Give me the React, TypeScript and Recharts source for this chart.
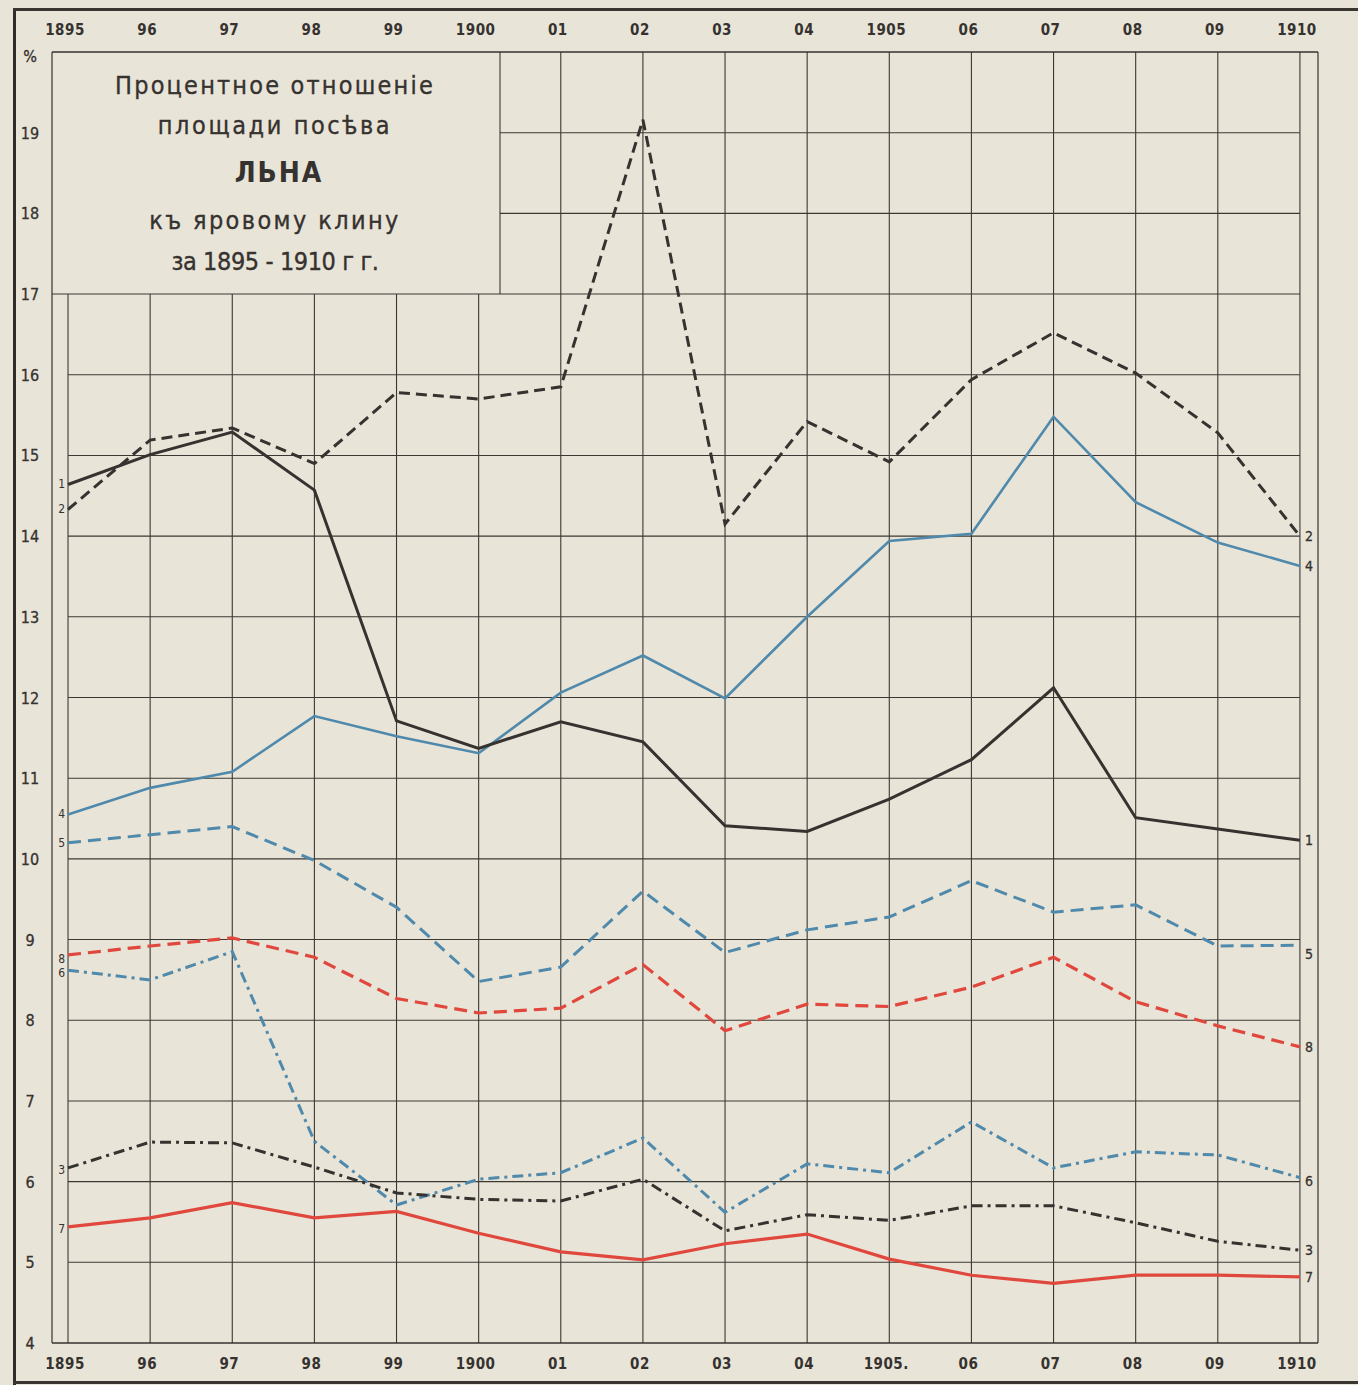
import React from "react";
import { LineChart, Line, XAxis, YAxis, ReferenceLine } from "recharts";

const years = [1895, 1896, 1897, 1898, 1899, 1900, 1901, 1902, 1903, 1904, 1905, 1906, 1907, 1908, 1909, 1910];
const topLabels = ["1895", "96", "97", "98", "99", "1900", "01", "02", "03", "04", "1905", "06", "07", "08", "09", "1910"];
const bottomLabels = ["1895", "96", "97", "98", "99", "1900", "01", "02", "03", "04", "1905.", "06", "07", "08", "09", "1910"];
const yTicks = [4, 5, 6, 7, 8, 9, 10, 11, 12, 13, 14, 15, 16, 17, 18, 19, 20];

const series1 = [14.64, 15.01, 15.29, 14.57, 11.71, 11.37, 11.7, 11.45, 10.41, 10.34, 10.74, 11.23, 12.12, 10.51, 10.37, 10.23];
const series2 = [14.33, 15.19, 15.34, 14.9, 15.78, 15.7, 15.85, 19.16, 14.15, 15.42, 14.92, 15.94, 16.52, 16.02, 15.28, 14.0];
const series3 = [6.17, 6.49, 6.48, 6.18, 5.86, 5.78, 5.76, 6.03, 5.39, 5.59, 5.52, 5.7, 5.7, 5.49, 5.26, 5.15];
const series4 = [10.55, 10.88, 11.08, 11.77, 11.52, 11.31, 12.06, 12.52, 11.99, 13.0, 13.94, 14.03, 15.48, 14.42, 13.92, 13.63];
const series5 = [10.2, 10.3, 10.4, 9.98, 9.4, 8.48, 8.66, 9.6, 8.84, 9.12, 9.28, 9.73, 9.34, 9.43, 8.92, 8.93];
const series6 = [8.62, 8.5, 8.85, 6.5, 5.71, 6.03, 6.11, 6.54, 5.62, 6.22, 6.11, 6.74, 6.17, 6.37, 6.33, 6.05];
const series7 = [5.44, 5.55, 5.74, 5.55, 5.63, 5.36, 5.13, 5.03, 5.23, 5.35, 5.04, 4.84, 4.74, 4.84, 4.84, 4.82];
const series8 = [8.81, 8.92, 9.02, 8.78, 8.27, 8.09, 8.15, 8.69, 7.87, 8.2, 8.17, 8.41, 8.78, 8.23, 7.93, 7.67];

const titleLines = ["Процентное отношенiе", "площади посѣва", "ЛЬНА", "къ яровому клину", "за 1895 - 1910 г г."];

const data = years.map((y, i) => ({
  year: y,
  s1: series1[i], s2: series2[i], s3: series3[i], s4: series4[i],
  s5: series5[i], s6: series6[i], s7: series7[i], s8: series8[i],
}));

const X_MIN = 1894.805;
const X_MAX = 1910.22;
const BOX_RIGHT = 1900.26;
const INK = "#35322f";
const BLUE = "#4f89ab";
const RED = "#e0473d";
const PAPER = "#e9e4d8";
const FONT = "'DejaVu Sans Condensed', 'DejaVu Sans', sans-serif";

const TopTick = (props: any) => {
  const i = years.indexOf(props.payload.value);
  return (
    <text x={props.x - 3} y={35} textAnchor="middle" fontFamily={FONT} fontWeight="bold" fontSize={15} fill={INK} letterSpacing={0.5}>
      {topLabels[i]}
    </text>
  );
};
const BottomTick = (props: any) => {
  const i = years.indexOf(props.payload.value);
  return (
    <text x={props.x - 3} y={1369} textAnchor="middle" fontFamily={FONT} fontWeight="bold" fontSize={15} fill={INK} letterSpacing={0.5}>
      {bottomLabels[i]}
    </text>
  );
};
const LeftTick = (props: any) => {
  const v = props.payload.value;
  return (
    <text x={30} y={props.y + (v === 20 ? 10 : 6)} textAnchor="middle" fontFamily={FONT} fontSize={16} fill={INK} stroke={INK} strokeWidth={0.3}>
      {v === 20 ? "%" : v}
    </text>
  );
};
const RightTick = (props: any) => {
  const v = props.payload.value;
  return (
    <text x={1336} y={props.y + (v === 20 ? 10 : 6)} textAnchor="middle" fontFamily={FONT} fontSize={16} fill={INK} stroke={INK} strokeWidth={0.3}>
      {v === 20 ? "%" : v}
    </text>
  );
};

const makeEndLabel = (name: string, leftDy: number, rightDy: number) => (props: any) => {
  const { x, y, index } = props;
  if (index === 0) {
    return (
      <text key={"l" + name} x={x - 3} y={y + 4 + leftDy} textAnchor="end" fontFamily={FONT} fontSize={12} fill={INK}>
        {name}
      </text>
    );
  }
  if (index === years.length - 1) {
    return (
      <text key={"r" + name} x={x + 5} y={y + 5 + rightDy} textAnchor="start" fontFamily={FONT} fontSize={14} fill={INK} stroke={INK} strokeWidth={0.3}>
        {name}
      </text>
    );
  }
  return null;
};

const hLines = [5, 6, 7, 8, 9, 10, 11, 12, 13, 14, 15, 16];
const gridProps = { xAxisId: "b", yAxisId: "l", stroke: "#3b3834", strokeWidth: 1.1, ifOverflow: "visible" as const };

const titleBase: React.CSSProperties = { fontSize: 25, lineHeight: "40px", WebkitTextStroke: "0.35px " + INK };

export default function App() {
  return (
    <div style={{ position: "relative", width: 1358, height: 1385, background: PAPER, overflow: "hidden" }}>
      <style>{"body{margin:0;overflow:hidden;background:" + PAPER + "}"}</style>
      <div style={{ position: "absolute", left: 13, top: 8, width: 3, height: 1377, background: "#2f2c29" }} />
      <div style={{ position: "absolute", left: 13, top: 8, width: 1345, height: 3, background: "#3a3733" }} />
      <div style={{ position: "absolute", left: 13, top: 1381, width: 1345, height: 3, background: "#3a3733" }} />
      <LineChart width={1358} height={1385} data={data} margin={{ top: 0, right: 0, bottom: 0, left: 0 }}>
        <XAxis xAxisId="t" orientation="top" dataKey="year" type="number" domain={[X_MIN, X_MAX]} allowDataOverflow ticks={years} interval={0} height={52} tick={<TopTick />} tickLine={false} axisLine={{ stroke: INK, strokeWidth: 1.5 }} />
        <XAxis xAxisId="b" orientation="bottom" dataKey="year" type="number" domain={[X_MIN, X_MAX]} allowDataOverflow ticks={years} interval={0} height={42} tick={<BottomTick />} tickLine={false} axisLine={{ stroke: INK, strokeWidth: 1.5 }} />
        <YAxis yAxisId="l" orientation="left" type="number" domain={[4, 20]} ticks={yTicks} interval={0} width={52} tick={<LeftTick />} tickLine={false} axisLine={{ stroke: INK, strokeWidth: 1.2 }} />
        <YAxis yAxisId="r" orientation="right" type="number" domain={[4, 20]} ticks={yTicks} interval={0} width={40} tick={<RightTick />} tickLine={false} axisLine={{ stroke: INK, strokeWidth: 1.2 }} />

        {hLines.map((v) => (
          <ReferenceLine key={"h" + v} {...gridProps} segment={[{ x: 1895, y: v }, { x: 1910, y: v }]} />
        ))}
        <ReferenceLine {...gridProps} segment={[{ x: X_MIN, y: 17 }, { x: 1910, y: 17 }]} />
        {[18, 19].map((v) => (
          <ReferenceLine key={"hb" + v} {...gridProps} segment={[{ x: BOX_RIGHT, y: v }, { x: 1910, y: v }]} />
        ))}
        <ReferenceLine {...gridProps} segment={[{ x: BOX_RIGHT, y: 17 }, { x: BOX_RIGHT, y: 20 }]} />
        {years.map((yr) => (
          <ReferenceLine key={"v" + yr} {...gridProps} segment={[{ x: yr, y: 4 }, { x: yr, y: yr <= 1900 ? 17 : 20 }]} />
        ))}

        <Line xAxisId="b" yAxisId="l" dataKey="s7" stroke={RED} strokeWidth={3.2} dot={false} isAnimationActive={false} label={makeEndLabel("7", 2, 0)} />
        <Line xAxisId="b" yAxisId="l" dataKey="s8" stroke={RED} strokeWidth={3.2} strokeDasharray="13 7" dot={false} isAnimationActive={false} label={makeEndLabel("8", 4, 0)} />
        <Line xAxisId="b" yAxisId="l" dataKey="s6" stroke={BLUE} strokeWidth={3} strokeDasharray="11 5 3 5" dot={false} isAnimationActive={false} label={makeEndLabel("6", 3, 3)} />
        <Line xAxisId="b" yAxisId="l" dataKey="s5" stroke={BLUE} strokeWidth={3} strokeDasharray="13 7" dot={false} isAnimationActive={false} label={makeEndLabel("5", 0, 9)} />
        <Line xAxisId="b" yAxisId="l" dataKey="s4" stroke={BLUE} strokeWidth={2.6} dot={false} isAnimationActive={false} label={makeEndLabel("4", 0, 0)} />
        <Line xAxisId="b" yAxisId="l" dataKey="s3" stroke={INK} strokeWidth={3} strokeDasharray="11 5 3 5" dot={false} isAnimationActive={false} label={makeEndLabel("3", 2, 0)} />
        <Line xAxisId="b" yAxisId="l" dataKey="s2" stroke={INK} strokeWidth={3} strokeDasharray="11 6" dot={false} isAnimationActive={false} label={makeEndLabel("2", 0, 0)} />
        <Line xAxisId="b" yAxisId="l" dataKey="s1" stroke={INK} strokeWidth={3} dot={false} isAnimationActive={false} label={makeEndLabel("1", 0, 0)} />
      </LineChart>
      <div style={{ position: "absolute", left: 51, top: 66, width: 448, textAlign: "center", fontFamily: FONT, color: INK, pointerEvents: "none" }}>
        <div style={{ ...titleBase, letterSpacing: 2.2 }}>{titleLines[0]}</div>
        <div style={{ ...titleBase, letterSpacing: 2.6 }}>{titleLines[1]}</div>
        <div style={{ ...titleBase, fontSize: 28, letterSpacing: 2, lineHeight: "54px", fontWeight: "bold", WebkitTextStroke: "0px", paddingLeft: 8 }}>{titleLines[2]}</div>
        <div style={{ ...titleBase, letterSpacing: 2.4, lineHeight: "42px" }}>{titleLines[3]}</div>
        <div style={{ ...titleBase, letterSpacing: -0.4, lineHeight: "40px" }}>{titleLines[4]}</div>
      </div>
    </div>
  );
}
